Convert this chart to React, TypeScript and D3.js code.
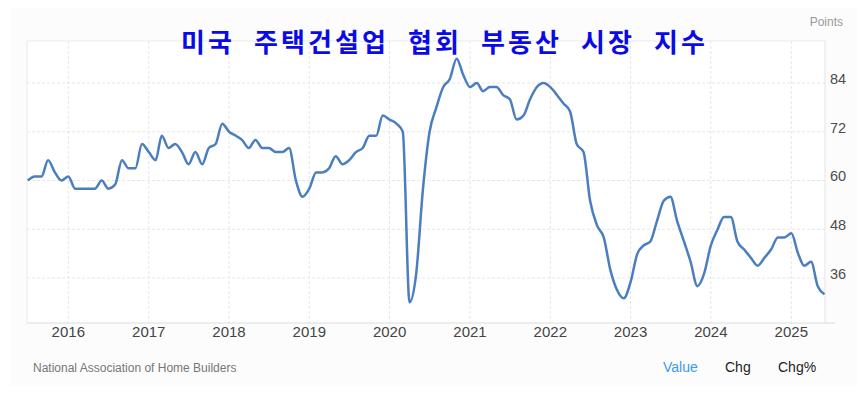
import React from "react";
import * as d3 from "d3";

const startYear = 2015;
const startMonth = 6; // July (0-based)
const values2015 = [60, 61, 61, 65, 62, 60];
const values2016 = [61, 58, 58, 58, 58, 60, 58, 59, 65, 63, 63, 69];
const values2017 = [67, 65, 71, 68, 69, 67, 64, 67, 64, 68, 69, 74];
const values2018 = [72, 71, 70, 68, 70, 68, 68, 67, 67, 68, 60, 56];
const values2019 = [58, 62, 62, 63, 66, 64, 65, 67, 68, 71, 71, 76];
const values2020 = [75, 74, 72, 30, 37, 58, 72, 78, 83, 85, 90, 86];
const values2021 = [83, 84, 82, 83, 83, 81, 80, 75, 76, 80, 83, 84];
const values2022 = [83, 81, 79, 77, 69, 67, 55, 49, 46, 38, 33, 31];
const values2023 = [35, 42, 44, 45, 50, 55, 56, 50, 45, 40, 34, 37];
const values2024 = [44, 48, 51, 51, 45, 43, 41, 39, 41, 43, 46, 46];
const values2025 = [47, 42, 39, 40, 34, 32];

const yTicks = [36, 48, 60, 72, 84];
const xTickYears = [2016, 2017, 2018, 2019, 2020, 2021, 2022, 2023, 2024, 2025];
const title = "미국 주택건설업 협회 부동산 시장 지수";
const unitLabel = "Points";
const sourceLabel = "National Association of Home Builders";
const legendItems = ["Value", "Chg", "Chg%"];

const allValues = [
  ...values2015, ...values2016, ...values2017, ...values2018, ...values2019,
  ...values2020, ...values2021, ...values2022, ...values2023, ...values2024, ...values2025,
];
const data = allValues.map((v, i) => ({
  date: new Date(startYear, startMonth + i, 1),
  value: v,
}));

const W = 860;
const H = 393;
const plot = { left: 27, right: 825, top: 41, bottom: 323 };

export default function App() {
  const x = d3
    .scaleTime()
    .domain([data[0].date, data[data.length - 1].date])
    .range([27.85, 824.5]);
  const y = d3.scaleLinear().domain([36, 84]).range([278, 83]);
  const line = d3
    .line<{ date: Date; value: number }>()
    .x((d) => x(d.date))
    .y((d) => y(d.value))
    .curve(d3.curveMonotoneX);

  const font = "Arial, 'Liberation Sans', Helvetica, sans-serif";

  return (
    <svg width={W} height={H} style={{ position: "absolute", left: 0, top: 0 }}>
      <rect x={0} y={0} width={W} height={H} fill="#ffffff" />
      <rect x={10} y={8} width={847} height={378} fill="#fcfcfc" />
      <rect
        x={plot.left}
        y={plot.top}
        width={plot.right - plot.left}
        height={plot.bottom - plot.top}
        fill="#ffffff"
      />
      {yTicks.map((t) => (
        <line
          key={"gy" + t}
          x1={plot.left}
          x2={plot.right}
          y1={y(t)}
          y2={y(t)}
          stroke="#e6e6e6"
          strokeDasharray="3,2"
        />
      ))}
      {xTickYears.map((yr) => {
        const xx = x(new Date(yr, 0, 1));
        return (
          <line
            key={"gx" + yr}
            x1={xx}
            x2={xx}
            y1={plot.top}
            y2={plot.bottom}
            stroke="#e6e6e6"
            strokeDasharray="3,2"
          />
        );
      })}
      <line x1={plot.left} x2={plot.right} y1={plot.top} y2={plot.top} stroke="#ebebeb" />
      <line x1={plot.left} x2={plot.left} y1={plot.top} y2={plot.bottom} stroke="#ebebeb" />
      <line x1={plot.right} x2={plot.right} y1={plot.top} y2={plot.bottom} stroke="#e3e3e3" />
      <line x1={plot.left} x2={plot.right + 10} y1={plot.bottom} y2={plot.bottom} stroke="#dcdcdc" />

      <path d={line(data) || ""} fill="none" stroke="#4a7ebf" strokeWidth={2.5} strokeLinejoin="round" />

      {yTicks.map((t) => (
        <text
          key={"ty" + t}
          x={830}
          y={y(t) - 3}
          dominantBaseline="middle"
          fontFamily={font}
          fontSize={14.5}
          fill="#4d4d4d"
        >
          {t}
        </text>
      ))}
      {xTickYears.map((yr) => (
        <text
          key={"tx" + yr}
          x={x(new Date(yr, 0, 1))}
          y={333}
          textAnchor="middle"
          dominantBaseline="middle"
          fontFamily={font}
          fontSize={15}
          fill="#444444"
        >
          {yr}
        </text>
      ))}
      <text x={843} y={23} textAnchor="end" dominantBaseline="middle" fontFamily={font} fontSize={12} fill="#999999">
        {unitLabel}
      </text>

      <text
        x={181}
        y={52}
        fontFamily="'Noto Sans CJK KR', sans-serif"
        fontWeight="bold"
        fontSize={26}
        fill="#0a0ae6"
        textLength={524}
        lengthAdjust="spacing"
        style={{ wordSpacing: "10px" }}
      >
        {title}
      </text>

      <text x={33} y={369} dominantBaseline="middle" fontFamily={font} fontSize={12} fill="#777777">
        {sourceLabel}
      </text>
      {legendItems.map((s, i) => (
        <text
          key={s}
          x={[663, 725, 778][i]}
          y={368}
          dominantBaseline="middle"
          fontFamily={font}
          fontSize={14}
          fill={i === 0 ? "#3d9ae8" : "#222222"}
        >
          {s}
        </text>
      ))}
    </svg>
  );
}
